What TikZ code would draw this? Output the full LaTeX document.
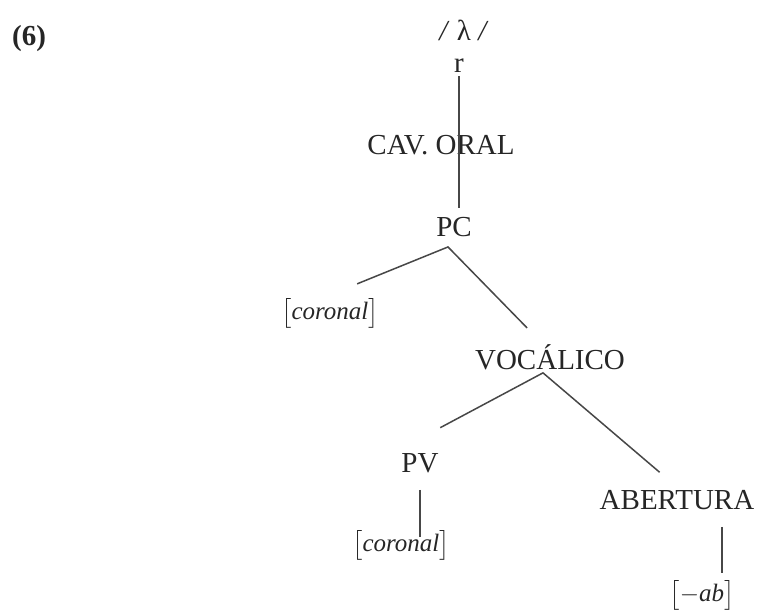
\documentclass[tikz,border=0pt]{standalone}
\usepackage{amsmath}
\usepackage{fontspec}
\setmainfont{Liberation Serif}
\usetikzlibrary{calc}

\tikzset{
  lbl/.style = {inner sep=3pt, text=black!85, font=\fontsize{29}{32}\selectfont},
  feat/.style = {inner sep=3pt, text=black!85, font=\fontsize{25}{28}\selectfont},
  branch/.style = {line width=1.5pt, draw=black!72}
}

\begin{document}
\begin{tikzpicture}[x=1pt, y=-1pt]
\useasboundingbox (0,0) rectangle (757,614);
\node[lbl, font=\fontsize{29}{32}\selectfont\bfseries] (six) at (29,39) {(6)};
\node[lbl] (lam) at (464,30) {\textit{/} λ \textit{/}};
\node[lbl] (r) at (459,66) {r};
\node[lbl] (cav) at (441,145) {CAV. ORAL};
\node[lbl] (pc) at (454,227) {PC};
\node[feat] (cor1) at (330,313) {$\bigl[$\textit{coronal}$\bigr]$};
\node[lbl] (voc) at (550,357) {VOCÁLICO};
\node[lbl] (pv) at (420,463) {PV};
\node[lbl] (ab) at (677,500) {ABERTURA};
\node[feat] (cor2) at (401,545) {$\bigl[$\textit{coronal}$\bigr]$};
\node[feat] (minab) at (702,595) {$\bigl[-\textit{ab}\bigr]$};

\coordinate (pcfoot) at ($(pc.south)+(-6,7)$);
\coordinate (vocfoot) at ($(voc.south)+(-7,0)$);

\draw[branch] (r.south) -- ($(r.south |- pc.north)+(0,-6)$);
\draw[branch] ($(pcfoot)!0.77!(cor1.north)$) -- (pcfoot)
  -- ($(pcfoot)!0.86!([xshift=-10pt]voc.north)$);
\draw[branch] ($(vocfoot)!0.71!(pv.north west)$) -- (vocfoot)
  -- ($(vocfoot)!0.87!(ab.north)$);
\draw[branch] ($(pv.south)+(0,14)$) -- ($(pv.south |- cor2.north)+(0,10)$);
\draw[branch] ($(ab.south)+(45,14)$) -- ($(ab.south |- minab.north)+(45,-4)$);
\end{tikzpicture}
\end{document}
